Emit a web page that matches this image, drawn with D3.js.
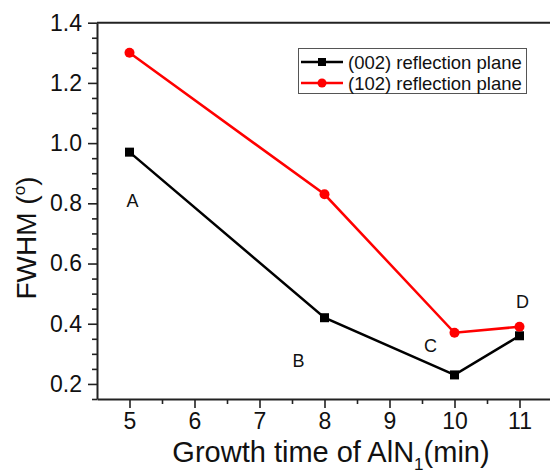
<!DOCTYPE html>
<html>
<head>
<meta charset="utf-8">
<script src="https://cdn.jsdelivr.net/npm/d3@7"></script>
<style>
  html, body { margin: 0; padding: 0; background: #fff; }
  svg { display: block; font-family: "Liberation Sans", Arial, sans-serif; }
</style>
</head>
<body>
<svg id="chart" width="550" height="473"></svg>
<script>
const times = [5, 8, 10, 11];
const fwhm002 = [0.97, 0.42, 0.23, 0.36];
const fwhm102 = [1.30, 0.83, 0.37, 0.39];
const seriesNames = ["(002) reflection plane", "(102) reflection plane"];
const pointLabels = ["A", "B", "C", "D"];
const xTicks = [5, 6, 7, 8, 9, 10, 11];
const yTicks = [0.2, 0.4, 0.6, 0.8, 1.0, 1.2, 1.4];

const svg = d3.select("#chart");
const mLeft = 97, mRight = 552, mTop = 22.7, mBottom = 399;

const x = d3.scaleLinear().domain([4.5, 11.5]).range([mLeft, mRight]);
const y = d3.scaleLinear().domain([0.15, 1.4]).range([mBottom, mTop]);

const axisColor = "#222";

// minor ticks
const xMinor = d3.range(5.5, 11.5, 1);
const yMinor = d3.range(0.15, 1.4001, 0.05).filter(v => !yTicks.some(t => Math.abs(t - v) < 1e-6));

const gx = svg.append("g").attr("transform", `translate(0,${mBottom})`);
gx.call(d3.axisBottom(x).tickValues(xMinor).tickSize(5).tickFormat(""));
gx.call(g => g.select(".domain").remove());
const gx2 = svg.append("g").attr("transform", `translate(0,${mBottom})`)
  .call(d3.axisBottom(x).tickValues(xTicks).tickSize(9).tickSizeOuter(0).tickPadding(5).tickFormat(d3.format("d")));
gx2.selectAll("text").attr("font-size", 23).attr("fill", "#111");

const gy = svg.append("g").attr("transform", `translate(${mLeft},0)`);
gy.call(d3.axisLeft(y).tickValues(yMinor).tickSize(5).tickFormat(""));
gy.call(g => g.select(".domain").remove());
const gy2 = svg.append("g").attr("transform", `translate(${mLeft},0)`)
  .call(d3.axisLeft(y).tickValues(yTicks).tickSize(9).tickSizeOuter(0).tickPadding(6).tickFormat(d3.format(".1f")));
gy2.selectAll("text").attr("font-size", 23).attr("fill", "#111");

svg.selectAll(".domain, .tick line").attr("stroke", axisColor).attr("stroke-width", 1.6);
svg.selectAll(".domain").attr("stroke-width", 2);

// top frame line
svg.append("line").attr("x1", mLeft).attr("x2", mRight).attr("y1", mTop).attr("y2", mTop)
  .attr("stroke", axisColor).attr("stroke-width", 2);

const line = d3.line().x(d => x(d[0])).y(d => y(d[1]));
const d002 = times.map((t, i) => [t, fwhm002[i]]);
const d102 = times.map((t, i) => [t, fwhm102[i]]);

svg.append("path").datum(d002).attr("d", line).attr("fill", "none").attr("stroke", "#000").attr("stroke-width", 2.5);
svg.append("path").datum(d102).attr("d", line).attr("fill", "none").attr("stroke", "#ff0000").attr("stroke-width", 2.5);

const sq = 9;
svg.selectAll(".sq").data(d002).enter().append("rect")
  .attr("x", d => x(d[0]) - sq / 2).attr("y", d => y(d[1]) - sq / 2)
  .attr("width", sq).attr("height", sq).attr("fill", "#000");
svg.selectAll(".ci").data(d102).enter().append("circle")
  .attr("cx", d => x(d[0])).attr("cy", d => y(d[1])).attr("r", 5).attr("fill", "#ff0000");

// point labels (offset from the (002) point)
const labelOffsets = [[3, 55], [-26, 49], [-24, -23], [3, -28]];
svg.selectAll(".pl").data(pointLabels).enter().append("text")
  .attr("x", (d, i) => x(times[i]) + labelOffsets[i][0])
  .attr("y", (d, i) => y(fwhm002[i]) + labelOffsets[i][1])
  .attr("text-anchor", "middle").attr("font-size", 18).attr("fill", "#111")
  .text(d => d);

// legend
const lg = svg.append("g");
lg.append("rect").attr("x", 298.5).attr("y", 48.5).attr("width", 228).attr("height", 45)
  .attr("fill", "#fff").attr("stroke", "#555").attr("stroke-width", 1);
const legendRows = [{name: seriesNames[0], color: "#000", shape: "sq"}, {name: seriesNames[1], color: "#ff0000", shape: "ci"}];
legendRows.forEach((r, i) => {
  const cy = 62 + i * 21;
  lg.append("line").attr("x1", 301).attr("x2", 343).attr("y1", cy).attr("y2", cy)
    .attr("stroke", r.color).attr("stroke-width", 2.5);
  if (r.shape === "sq") {
    lg.append("rect").attr("x", 322 - 4).attr("y", cy - 4).attr("width", 8).attr("height", 8).attr("fill", r.color);
  } else {
    lg.append("circle").attr("cx", 322).attr("cy", cy).attr("r", 4.5).attr("fill", r.color);
  }
  lg.append("text").attr("x", 348).attr("y", cy + 6.5).attr("font-size", 18.5).attr("fill", "#111").text(r.name);
});

// axis titles
const xt = svg.append("text").attr("x", 331).attr("y", 462).attr("text-anchor", "middle")
  .attr("font-size", 29).attr("fill", "#111");
xt.append("tspan").text("Growth time of AlN");
xt.append("tspan").attr("font-size", 17).attr("dy", 8).text("1");
xt.append("tspan").attr("dy", -8).text("(min)");

const yt = svg.append("text").attr("transform", "translate(36,238) rotate(-90)")
  .attr("text-anchor", "middle").attr("font-size", 28).attr("fill", "#111");
yt.append("tspan").text("FWHM (");
yt.append("tspan").attr("font-size", 17).attr("dy", -11).text("o");
yt.append("tspan").attr("dy", 11).text(")");
</script>
</body>
</html>
